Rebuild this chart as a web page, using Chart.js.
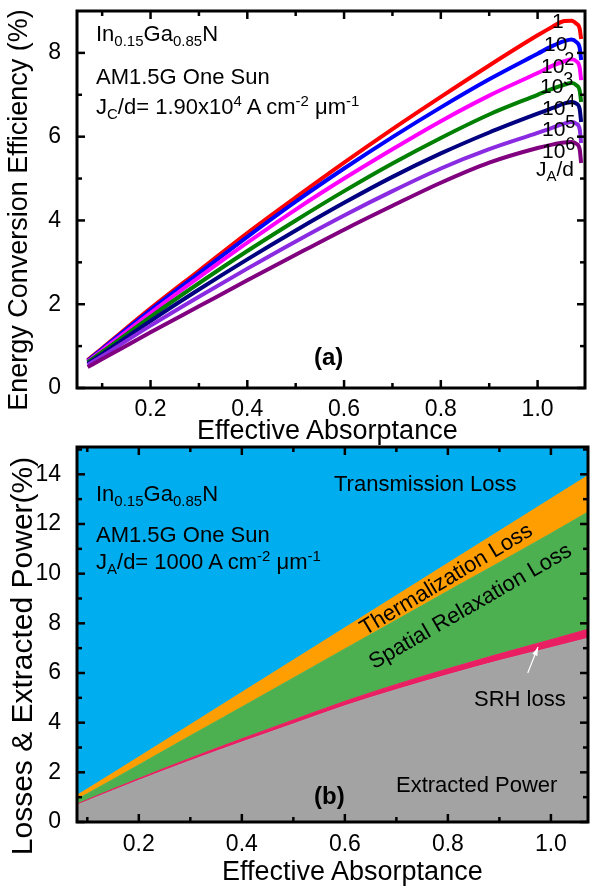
<!DOCTYPE html>
<html lang="en">
<head>
<meta charset="UTF-8">
<title>InGaN efficiency and losses</title>
<script src="https://cdn.jsdelivr.net/npm/chart.js"></script>
<style>
  body { margin: 0; background: #fff; font-family: 'Liberation Sans', Arial, sans-serif; }
  #page { position: relative; width: 593px; height: 888px; overflow: hidden; }
  .box { position: absolute; left: 0; width: 593px; }
  .note { position: absolute; font-size: 22px; line-height: 1; color: #000; white-space: nowrap; }
  .note sub, .note sup { font-size: 15px; line-height: 0; }
  .lab { font-size: 21px; }
  .lab sup { font-size: 18px; }
  .tag { font-weight: bold; font-size: 24px; }
  .axt { font-size: 27px; }
  .yt { transform: translate(-50%, -50%) rotate(-90deg); }
  .rot { transform: translate(-50%, -50%) rotate(-31deg); }
</style>
</head>
<body>
<div id="page">
  <div class="box" style="top:444px;height:444px"><canvas id="chartB"></canvas></div>
  <div class="box" style="top:0;height:448px"><canvas id="chartA"></canvas></div>

  <!-- axis titles -->
  <div class="note axt yt" style="left:18px;top:210px">Energy Conversion Efficiency (%)</div>
  <div class="note axt" style="left:197px;top:417px">Effective Absorptance</div>
  <div class="note axt yt" style="left:22px;top:656px;font-size:30px">Losses &amp; Extracted Power(%)</div>
  <div class="note axt" style="left:222px;top:858px">Effective Absorptance</div>

  <!-- panel (a) notes -->
  <div class="note" style="left:96px;top:23px">In<sub>0.15</sub>Ga<sub>0.85</sub>N</div>
  <div class="note" style="left:96px;top:66px">AM1.5G One Sun</div>
  <div class="note" style="left:96px;top:96px">J<sub>C</sub>/d= 1.90x10<sup>4</sup> A cm<sup>-2</sup> &mu;m<sup>-1</sup></div>
  <div class="note tag" style="left:314px;top:345px">(a)</div>

  <div class="note lab" style="left:552px;top:10px">1</div>
  <div class="note lab" style="left:544px;top:33px">10</div>
  <div class="note lab" style="left:541px;top:55px">10<sup>2</sup></div>
  <div class="note lab" style="left:540px;top:75px">10<sup>3</sup></div>
  <div class="note lab" style="left:542px;top:97px">10<sup>4</sup></div>
  <div class="note lab" style="left:542px;top:118px">10<sup>5</sup></div>
  <div class="note lab" style="left:542px;top:140px">10<sup>6</sup></div>
  <div class="note lab" style="left:536px;top:158px">J<sub>A</sub>/d</div>

  <!-- panel (b) notes -->
  <div class="note" style="left:96px;top:483px">In<sub>0.15</sub>Ga<sub>0.85</sub>N</div>
  <div class="note" style="left:96px;top:524px">AM1.5G One Sun</div>
  <div class="note" style="left:96px;top:551px">J<sub>A</sub>/d= 1000 A cm<sup>-2</sup> &mu;m<sup>-1</sup></div>
  <div class="note" style="left:334px;top:473px">Transmission Loss</div>
  <div class="note rot" style="left:446px;top:579px">Thermalization Loss</div>
  <div class="note rot" style="left:470px;top:606px;transform:translate(-50%,-50%) rotate(-30deg)">Spatial Relaxation Loss</div>
  <div class="note" style="left:474px;top:688px">SRH loss</div>
  <div class="note" style="left:396px;top:774px">Extracted Power</div>
  <div class="note tag" style="left:314px;top:784px">(b)</div>
</div>

<script>
// ---- panel (a): energy conversion efficiency vs effective absorptance ----
const effX = [0.07, 0.1, 0.2, 0.3, 0.4, 0.5, 0.6, 0.7, 0.8, 0.9, 1.0, 1.03, 1.055, 1.07, 1.08, 1.087, 1.09];
const eff1   = [0.67, 0.95, 1.90, 2.80, 3.70, 4.55, 5.38, 6.18, 6.95, 7.70, 8.42, 8.62, 8.76, 8.77, 8.70, 8.58, 8.33];
const eff1e1 = [0.65, 0.93, 1.86, 2.74, 3.61, 4.45, 5.24, 5.99, 6.70, 7.37, 7.98, 8.16, 8.28, 8.32, 8.26, 8.12, 7.83];
const eff1e2 = [0.63, 0.90, 1.79, 2.64, 3.47, 4.26, 5.00, 5.70, 6.37, 6.98, 7.52, 7.69, 7.80, 7.85, 7.80, 7.65, 7.35];
const eff1e3 = [0.61, 0.86, 1.70, 2.50, 3.27, 4.00, 4.70, 5.36, 5.97, 6.53, 7.00, 7.14, 7.24, 7.28, 7.23, 7.10, 6.83];
const eff1e4 = [0.58, 0.81, 1.60, 2.35, 3.07, 3.76, 4.42, 5.04, 5.60, 6.10, 6.55, 6.68, 6.79, 6.83, 6.79, 6.66, 6.35];
const eff1e5 = [0.55, 0.76, 1.49, 2.18, 2.85, 3.50, 4.12, 4.70, 5.24, 5.70, 6.09, 6.21, 6.31, 6.35, 6.31, 6.18, 5.85];
const eff1e6 = [0.50, 0.69, 1.33, 1.95, 2.57, 3.18, 3.78, 4.35, 4.90, 5.38, 5.73, 5.81, 5.86, 5.87, 5.83, 5.70, 5.37];
const effSeries = [eff1, eff1e1, eff1e2, eff1e3, eff1e4, eff1e5, eff1e6];
const effNames = ['1', '10', '10^2', '10^3', '10^4', '10^5', '10^6'];
const effColors = ['#ff0000', '#0000ff', '#ff00ff', '#008000', '#000080', '#8a2be2', '#800080'];

// ---- panel (b): stacked losses, upper boundary of each band ----
const lossX = [0.08, 0.1, 0.2, 0.3, 0.4, 0.5, 0.6, 0.7, 0.8, 0.9, 1.0, 1.072];
const extracted   = [0.68, 0.85, 1.68, 2.47, 3.22, 3.95, 4.68, 5.33, 5.93, 6.50, 7.02, 7.40];
const srhTop      = [0.72, 0.90, 1.75, 2.57, 3.35, 4.11, 4.86, 5.54, 6.17, 6.77, 7.34, 7.76];
const spatialTop  = [0.92, 1.14, 2.30, 3.47, 4.63, 5.80, 6.97, 8.13, 9.30, 10.45, 11.62, 12.48];
const thermalTop  = [1.08, 1.33, 2.62, 3.92, 5.22, 6.52, 7.82, 9.12, 10.42, 11.72, 13.02, 13.95];

// ticks
const xTicksA = [0.2, 0.4, 0.6, 0.8, 1.0];
const xMinorA = [0.1, 0.3, 0.5, 0.7, 0.9];
const yTicksA = [0, 2, 4, 6, 8];
const yMinorA = [1, 3, 5, 7];
const xTicksB = [0.2, 0.4, 0.6, 0.8, 1.0];
const xMinorB = [0.1, 0.3, 0.5, 0.7, 0.9];
const yTicksB = [0, 2, 4, 6, 8, 10, 12, 14];
const yMinorB = [1, 3, 5, 7, 9, 11, 13, 15];

const toXY = (xs, ys) => xs.map((x, i) => ({ x: x, y: ys[i] }));

Chart.defaults.font.family = "'Liberation Sans', Arial, sans-serif";
Chart.defaults.color = '#000';

// frame + inward tick marks, plus an optional arrow
const frameTicks = {
  id: 'frameTicks',
  afterDatasetsDraw(chart, args, o) {
    const { ctx, chartArea: a, scales: { x, y } } = chart;
    ctx.save();
    ctx.strokeStyle = '#000';
    ctx.lineWidth = 2.5;
    const seg = (x1, y1, x2, y2) => { ctx.beginPath(); ctx.moveTo(x1, y1); ctx.lineTo(x2, y2); ctx.stroke(); };
    o.xMajor.forEach(v => { const p = x.getPixelForValue(v); seg(p, a.bottom, p, a.bottom - 8); seg(p, a.top, p, a.top + 8); });
    o.xMinor.forEach(v => { const p = x.getPixelForValue(v); seg(p, a.bottom, p, a.bottom - 5); seg(p, a.top, p, a.top + 5); });
    o.yMajor.forEach(v => { const p = y.getPixelForValue(v); seg(a.left, p, a.left + 8, p); seg(a.right, p, a.right - 8, p); });
    o.yMinor.forEach(v => { const p = y.getPixelForValue(v); seg(a.left, p, a.left + 5, p); seg(a.right, p, a.right - 5, p); });
    ctx.lineWidth = 3;
    ctx.strokeRect(a.left, a.top, a.right - a.left, a.bottom - a.top);
    if (o.arrow) {
      const x1 = x.getPixelForValue(o.arrow[0]), y1 = y.getPixelForValue(o.arrow[1]);
      const x2 = x.getPixelForValue(o.arrow[2]), y2 = y.getPixelForValue(o.arrow[3]);
      ctx.strokeStyle = '#fff'; ctx.fillStyle = '#fff'; ctx.lineWidth = 1.2;
      seg(x1, y1, x2, y2);
      const ang = Math.atan2(y2 - y1, x2 - x1);
      ctx.beginPath();
      ctx.moveTo(x2, y2);
      ctx.lineTo(x2 - 9 * Math.cos(ang - 0.3), y2 - 9 * Math.sin(ang - 0.3));
      ctx.lineTo(x2 - 9 * Math.cos(ang + 0.3), y2 - 9 * Math.sin(ang + 0.3));
      ctx.closePath();
      ctx.fill();
    }
    ctx.restore();
  }
};

function axes(xmin, xmax, ymin, ymax, xT, yT, xH, xLabPad) {
  return {
    x: {
      type: 'linear', min: xmin, max: xmax,
      afterBuildTicks: s => { s.ticks = xT.map(v => ({ value: v })); },
      afterFit: s => { s.height = xH; s.paddingLeft = 0; s.paddingRight = 0; },
      grid: { display: false }, border: { display: false },
      ticks: { font: { size: 23 }, padding: xLabPad, maxRotation: 0, autoSkip: false, callback: v => v.toFixed(1) },
      title: { display: false }
    },
    y: {
      min: ymin, max: ymax,
      afterBuildTicks: s => { s.ticks = yT.map(v => ({ value: v })); },
      afterFit: s => { s.width = 77; s.paddingTop = 0; s.paddingBottom = 0; },
      grid: { display: false }, border: { display: false },
      ticks: { font: { size: 23 }, padding: 8, autoSkip: false, callback: v => String(v) },
      title: { display: false }
    }
  };
}

new Chart(document.getElementById('chartA'), {
  type: 'line',
  data: {
    datasets: effSeries.map((s, i) => ({
      label: effNames[i],
      data: toXY(effX, s),
      borderColor: effColors[i],
      borderWidth: 4,
      pointRadius: 0,
      fill: false,
      cubicInterpolationMode: 'monotone',
      order: effSeries.length - i
    }))
  },
  options: {
    responsive: true, maintainAspectRatio: false, animation: false,
    layout: { padding: { top: 11, right: 8, left: 0, bottom: 0 } },
    plugins: {
      legend: { display: false }, tooltip: { enabled: false },
      frameTicks: { xMajor: xTicksA, xMinor: xMinorA, yMajor: yTicksA, yMinor: yMinorA }
    },
    scales: axes(0.048, 1.098, 0, 9, xTicksA, yTicksA, 60, 0)
  },
  plugins: [frameTicks]
});

const band = (label, ys, color, fill) => ({
  label: label, data: toXY(lossX, ys), borderColor: color, backgroundColor: color,
  borderWidth: 1, pointRadius: 0, fill: fill, cubicInterpolationMode: 'monotone'
});

new Chart(document.getElementById('chartB'), {
  type: 'line',
  data: {
    datasets: [
      band('Extracted Power', extracted, '#a3a3a3', 'origin'),
      band('SRH loss', srhTop, '#e91e63', '-1'),
      band('Spatial Relaxation Loss', spatialTop, '#4caf50', '-1'),
      band('Thermalization Loss', thermalTop, '#ff9e00', '-1'),
      band('Transmission Loss', thermalTop, '#00aeef', 'end')
    ]
  },
  options: {
    responsive: true, maintainAspectRatio: false, animation: false,
    layout: { padding: { top: 3, right: 5, left: 0, bottom: 0 } },
    plugins: {
      legend: { display: false }, tooltip: { enabled: false },
      filler: { propagate: false },
      frameTicks: { xMajor: xTicksB, xMinor: xMinorB, yMajor: yTicksB, yMinor: yMinorB, arrow: [0.955, 6.0, 0.975, 7.05] }
    },
    scales: axes(0.08, 1.072, 0, 15.1, xTicksB, yTicksB, 66, 1)
  },
  plugins: [frameTicks]
});
</script>
</body>
</html>
